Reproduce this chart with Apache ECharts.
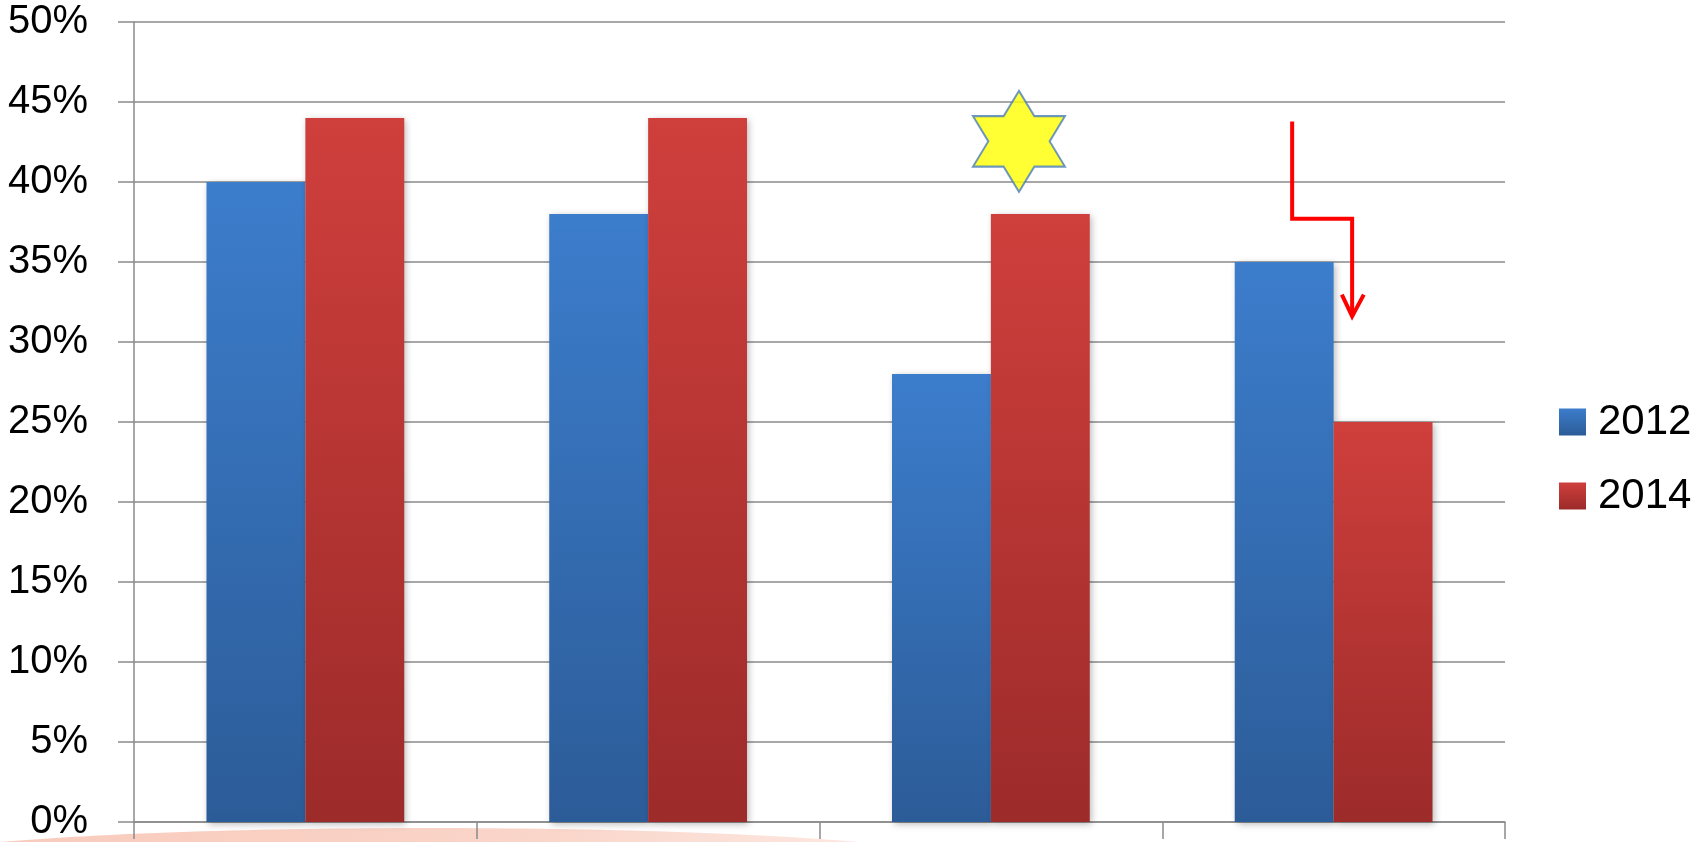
<!DOCTYPE html>
<html>
<head>
<meta charset="utf-8">
<script src="https://cdn.jsdelivr.net/npm/echarts@6/dist/echarts.min.js"></script>
<style>
  html, body { margin: 0; padding: 0; background: #ffffff; }
  #chart { width: 1695px; height: 842px; }
</style>
</head>
<body>
<div id="chart"></div>
<script>
// ---- data ----
const categories = ['1', '2', '3', '4'];
const seriesNames = ['2012', '2014'];
const values2012 = [40, 38, 28, 35];
const values2014 = [44, 44, 38, 25];
const yMin = 0, yMax = 50, yStep = 5;
// annotations in data space of a hidden value x-axis (each category spans 1 unit)
const starPosition = [[2.582, 42.54]];
const arrowPath = [[3.379, 43.78], [3.379, 37.70], [3.554, 37.70], [3.554, 31.60]];
const arrowHead = [[3.524, 32.96], [3.554, 31.60], [3.588, 32.96]];

const FONT = 'Liberation Sans';
const gridColor = '#8a8a8a';

function vGrad(top, bottom) {
  return new echarts.graphic.LinearGradient(0, 0, 0, 1, [
    { offset: 0, color: top },
    { offset: 1, color: bottom }
  ]);
}
const blue = vGrad('#3c7dcc', '#2c5c98');
const red = vGrad('#cf3f3c', '#9c2b2a');

const hexagram = 'path://M0,-1000 L289,-500 L866,-500 L577,0 L866,500 L289,500 L0,1000 L-289,500 L-866,500 L-577,0 L-866,-500 L-289,-500 Z';

const chart = echarts.init(document.getElementById('chart'), null, { renderer: 'canvas' });

const barShadow = {
  shadowBlur: 7,
  shadowColor: 'rgba(0,0,0,0.28)',
  shadowOffsetX: 2,
  shadowOffsetY: 2
};

chart.setOption({
  animation: false,
  backgroundColor: '#ffffff',
  graphic: [{
    type: 'ellipse',
    z: -10,
    silent: true,
    shape: { cx: 430, cy: 867, rx: 560, ry: 39 },
    style: {
      fill: new echarts.graphic.LinearGradient(0, 0, 1, 0, [
        { offset: 0, color: '#f8c9b9' },
        { offset: 0.6, color: '#fad5c9' },
        { offset: 1, color: '#fdefea' }
      ])
    }
  }],
  grid: { left: 134, right: 190, top: 22, bottom: 19, containLabel: false },
  legend: {
    data: seriesNames,
    orient: 'vertical',
    left: 1554,
    top: 396,
    itemWidth: 27,
    itemHeight: 27,
    itemGap: 32,
    icon: 'rect',
    textStyle: { fontFamily: FONT, fontSize: 42, color: '#000', padding: [0, 0, 0, 7] }
  },
  xAxis: [{
    type: 'category',
    data: categories,
    axisLine: { show: true, lineStyle: { color: gridColor, width: 1.5 } },
    axisTick: { show: true, length: 17, lineStyle: { color: gridColor, width: 1.5 } },
    axisLabel: { show: false },
    splitLine: { show: false }
  }, {
    type: 'value',
    min: 0, max: 4,
    show: false
  }],
  yAxis: {
    type: 'value',
    min: yMin, max: yMax, interval: yStep,
    axisLine: { show: true, lineStyle: { color: gridColor, width: 1.5 } },
    axisTick: { show: true, length: 16, lineStyle: { color: gridColor, width: 1.5 } },
    axisLabel: {
      formatter: '{value}%',
      margin: 46,
      fontFamily: FONT,
      fontSize: 40,
      color: '#000'
    },
    splitLine: { show: true, lineStyle: { color: gridColor, width: 1.5 } }
  },
  series: [{
    name: seriesNames[0],
    type: 'bar',
    data: values2012,
    barGap: '0%',
    barCategoryGap: '42.3%',
    itemStyle: Object.assign({ color: blue }, barShadow)
  }, {
    name: seriesNames[1],
    type: 'bar',
    data: values2014,
    barGap: '0%',
    barCategoryGap: '42.3%',
    itemStyle: Object.assign({ color: red }, barShadow)
  }, {
    name: 'star',
    type: 'scatter',
    xAxisIndex: 1,
    data: starPosition,
    symbol: hexagram,
    symbolSize: [92, 101],
    silent: true,
    z: 5,
    itemStyle: { color: '#ffff00', borderColor: '#4a7ebb', borderWidth: 2 }
  }, {
    name: 'arrow',
    type: 'line',
    xAxisIndex: 1,
    data: arrowPath,
    symbol: 'none',
    silent: true,
    z: 5,
    lineStyle: { color: '#ff0000', width: 4, join: 'miter', cap: 'butt' }
  }, {
    name: 'arrowHead',
    type: 'line',
    xAxisIndex: 1,
    data: arrowHead,
    symbol: 'none',
    silent: true,
    z: 5,
    lineStyle: { color: '#ff0000', width: 4, join: 'miter', cap: 'butt' }
  }]
});
</script>
</body>
</html>
